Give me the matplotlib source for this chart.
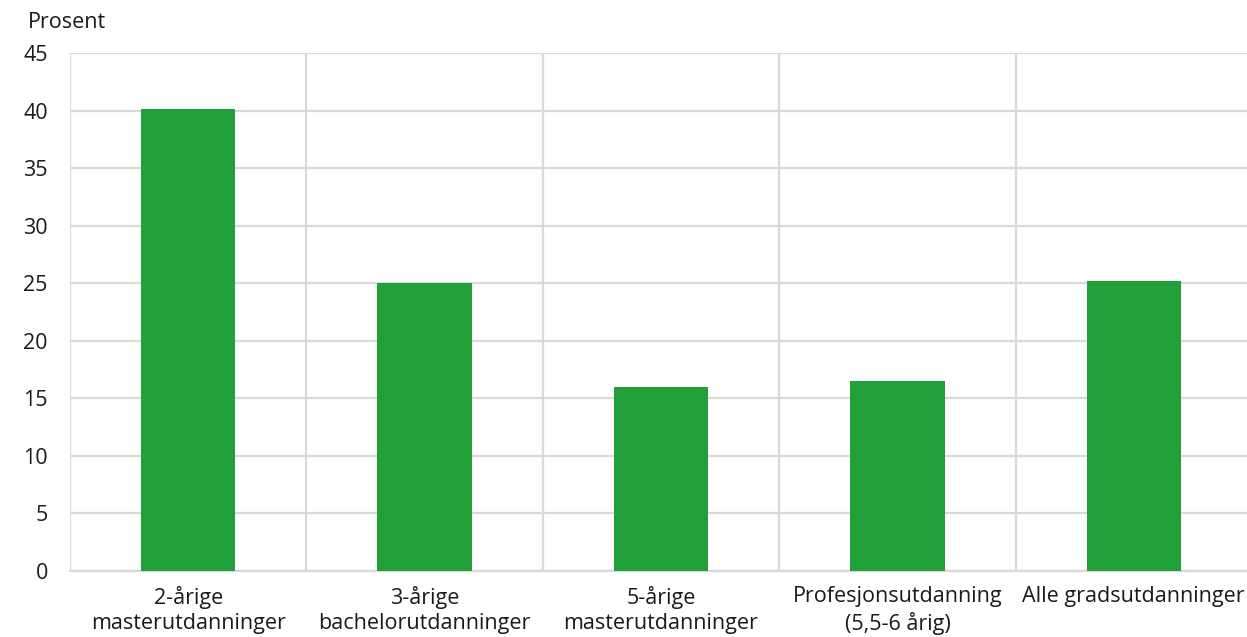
import numpy as np
import matplotlib.pyplot as plt

plt.rcParams['font.family'] = ['Open Sans', 'DejaVu Sans']

# Data
categories = ["2-årige\nmasterutdanninger", "3-årige\nbachelorutdanninger",
              "5-årige\nmasterutdanninger", "Profesjonsutdanning\n(5,5-6 årig)",
              "Alle gradsutdanninger"]
values = [40.1, 25.0, 16.0, 16.5, 25.2]
yticks = [0, 5, 10, 15, 20, 25, 30, 35, 40, 45]

W, H = 1247, 637
fig = plt.figure(figsize=(W / 100, H / 100), dpi=100)
ax = fig.add_axes([70 / W, (H - 571) / H, 1182 / W, 518 / H])

grid_col = '#d9d9d9'
fs = 15.5
x = np.arange(len(categories))
ax.bar(x, values, width=0.4, color='#21a03a', zorder=3)

ax.set_xlim(-0.5, len(categories) - 0.5)
ax.set_ylim(0, 45)
ax.set_yticks(yticks)
ax.set_yticklabels([str(t) for t in yticks], fontsize=fs, color='#1a1a1a')

# horizontal grid
ax.grid(axis='y', color=grid_col, linewidth=1.6, zorder=0)
# vertical separators between categories
for b in np.arange(-0.5, len(categories) + 0.5, 1):
    ax.axvline(b, color=grid_col, linewidth=1.6, zorder=0)

ax.set_xticks(x)
ax.set_xticklabels(categories, fontsize=fs, color='#1a1a1a', linespacing=1.25)
ax.tick_params(axis='both', length=0)
ax.tick_params(axis='y', pad=16)
ax.tick_params(axis='x', pad=11)

for s in ['top', 'right', 'left']:
    ax.spines[s].set_visible(False)
ax.spines['bottom'].set_color(grid_col)
ax.spines['bottom'].set_linewidth(1.6)

fig.text(28 / W, 1 - 23 / H, "Prosent", fontsize=fs, color='#1a1a1a',
         ha='left', va='center')

fig.savefig("out.png", dpi=100)
